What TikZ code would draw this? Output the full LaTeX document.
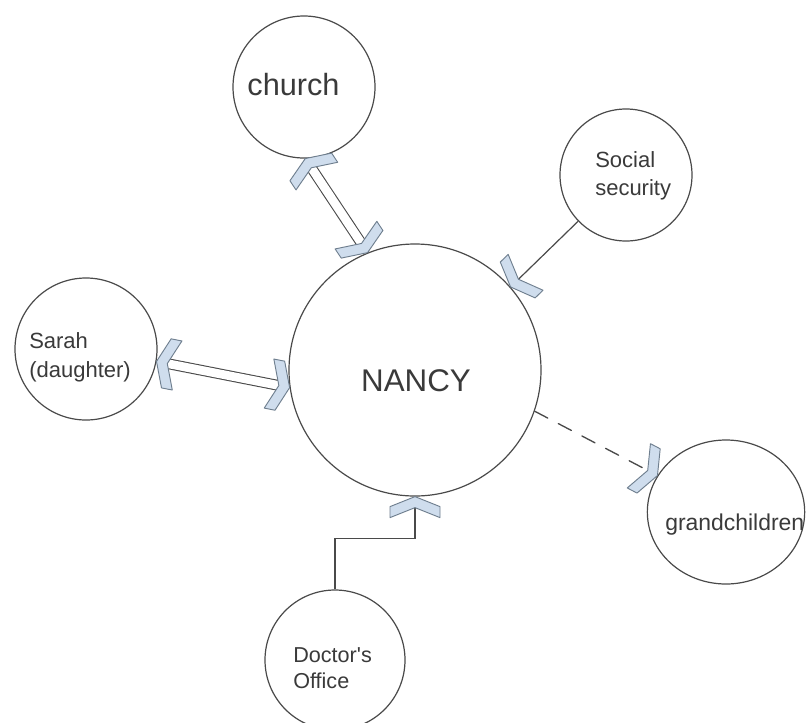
\documentclass[tikz,border=0pt]{standalone}
\usepackage{fontspec}
\setmainfont{Liberation Sans}
\usetikzlibrary{shapes.geometric,calc}
\definecolor{ink}{HTML}{3A3A3A}
\definecolor{edge}{HTML}{4A4A4A}
\definecolor{chevfill}{HTML}{CFDDED}
\definecolor{chevline}{HTML}{6F7F8F}
\begin{document}
\begin{tikzpicture}[x=0.75pt,y=-0.75pt,
  bubble/.style={circle,draw=edge,line width=0.9pt,inner sep=0pt},
  oval/.style={ellipse,draw=edge,line width=0.9pt,inner sep=0pt},
  lbl/.style={text=ink,inner sep=0pt,align=left},
  chevstyle/.style={fill=chevfill,draw=chevline,line width=0.7pt,line join=round},
  dbl/.style={draw=edge,line width=0.8pt,double=white,double distance=6.5pt,shorten <=6pt,shorten >=6pt},
  conn/.style={draw=edge,line width=0.9pt},
  chev/.pic={\path[chevstyle] (0,0) -- (-10,-25) -- (-21,-25) -- (-11,0) -- (-21,25) -- (-10,25) -- cycle;},
  chevb/.pic={\path[chevstyle] (0,0) -- (10,-25) -- (21,-25) -- (11,0) -- (21,25) -- (10,25) -- cycle;},
  onpath/.style={sloped,allow upside down}
]
\useasboundingbox[fill=white] (0,0) rectangle (810,722);
\clip (0,0) rectangle (810,722);

% circles
\node[bubble,minimum size=106.5pt] (church) at (304,87) {};
\node[bubble,minimum size=189pt] (nancy) at (415,370) {};
\node[bubble,minimum size=99pt] (social) at (626,175) {};
\node[bubble,minimum size=106.5pt] (sarah) at (86,349) {};
\node[oval,minimum width=118pt,minimum height=108pt] (grand) at (726,512) {};
\node[bubble,minimum size=105pt] (doctor) at (335,660) {};

% labels
\node[lbl,font=\fontsize{23}{27}\selectfont,anchor=base] (churcht) at (293.5,95) {church};
\node[lbl,font=\fontsize{23.5}{28}\selectfont,anchor=base] (nancyt) at (416,391) {NANCY};
\node[lbl,font=\fontsize{16.5}{21}\selectfont,anchor=base west] (socialt) at (595,195) {Social\\security};
\node[lbl,font=\fontsize{16.5}{21.75}\selectfont,anchor=base west] (saraht) at (29,377) {Sarah\\(daughter)};
\node[lbl,font=\fontsize{17.2}{22}\selectfont,anchor=base west] (grandt) at (665,530) {grandchildren};
\node[lbl,font=\fontsize{16.2}{19.5}\selectfont,anchor=base west] (doctort) at (293,688) {Doctor\textquotesingle s\\Office};

% connectors
\draw[dbl] (church.-89) -- (nancy.112);
\path (church.-89) -- (nancy.112) pic[pos=0,onpath]{chevb} pic[pos=1,onpath]{chev};

\draw[conn,shorten >=4pt] (social.224) -- (nancy.41);
\path (social.224) -- (nancy.41) pic[pos=1,onpath]{chev};

\draw[dbl] (sarah.-10) -- (nancy.188);
\path (sarah.-10) -- (nancy.188) pic[pos=0,onpath]{chevb} pic[pos=1,onpath]{chev};

\draw[conn,line width=1pt,dash pattern=on 11pt off 9pt,line cap=round,shorten >=4pt] (nancy.-19) -- (grand.152);
\path (nancy.-19) -- (grand.152) pic[pos=1,onpath]{chev};

\draw[conn,shorten >=4pt] (doctor.north) -- ++(0,-51) -| (nancy.south);
\pic[rotate=90] at (nancy.south) {chev};
\end{tikzpicture}
\end{document}
